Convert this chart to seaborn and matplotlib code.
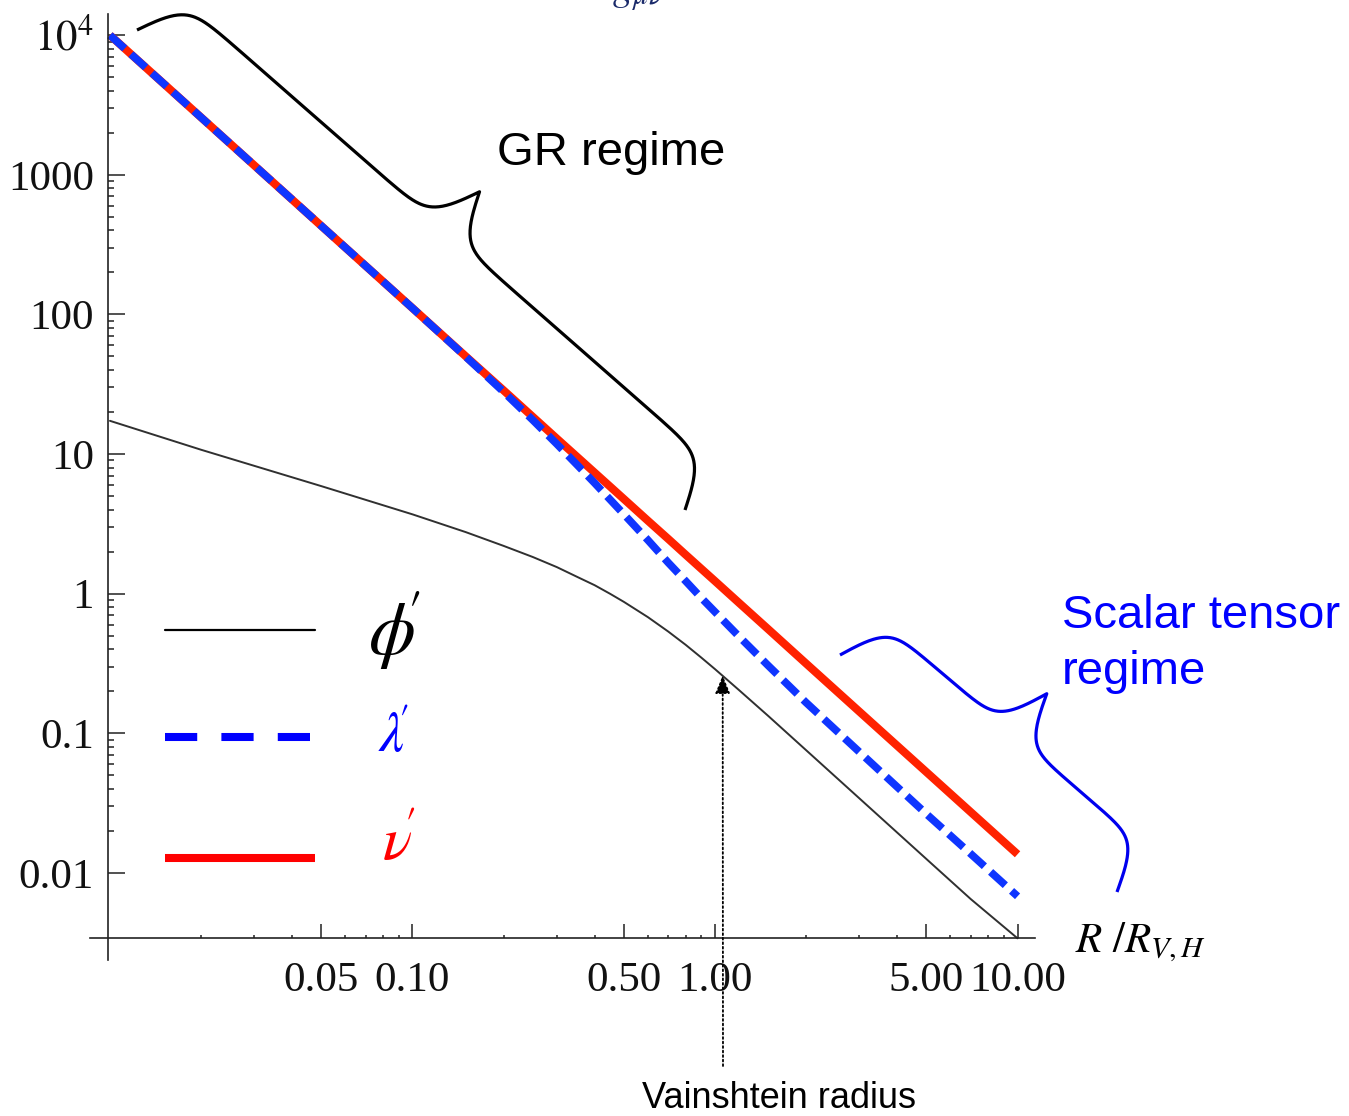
import numpy as np
import pandas as pd
import matplotlib
matplotlib.use("Agg")
import matplotlib.pyplot as plt
import seaborn as sns
from matplotlib.lines import Line2D
from matplotlib.ticker import FixedLocator, FixedFormatter

###################################################################################
# data (log-log, r in units of the Vainshtein radius)
###################################################################################
r = [0.01, 0.02, 0.05, 0.1, 0.15, 0.2, 0.25, 0.3, 0.35, 0.4, 0.45, 0.5, 0.6, 0.7, 0.8, 0.9,
     1.0, 1.2, 1.5, 2, 3, 5, 7, 10]
phi_p = [17.3, 10.74, 5.89, 3.70, 2.76, 2.20, 1.83, 1.55, 1.32, 1.15, 0.998, 0.873, 0.679,
         0.536, 0.430, 0.349, 0.288, 0.204, 0.133, 0.0757, 0.0342, 0.01256, 0.0065, 0.0034]
lam_p = [10000, 2580, 430, 111, 49.8, 27.9, 17.5, 11.8, 8.37, 6.2, 4.72, 3.70, 2.42, 1.67,
         1.23, 0.935, 0.74, 0.494, 0.305, 0.166, 0.0735, 0.0264, 0.0137, 0.0068]
nu_p = [10000, 2580, 430, 111, 50.1, 28.6, 18.45, 12.9, 9.55, 7.36, 5.85, 4.76, 3.33, 2.47,
        1.90, 1.51, 1.23, 0.86, 0.556, 0.316, 0.143, 0.0527, 0.0273, 0.0136]

x_ticks = [0.05, 0.1, 0.5, 1, 5, 10]
x_tick_labels = ["0.05", "0.10", "0.50", "1.00", "5.00", "10.00"]
x_minor = [0.02, 0.03, 0.04, 0.06, 0.07, 0.08, 0.09, 0.2, 0.3, 0.4, 0.6, 0.7, 0.8, 0.9,
           2, 3, 4, 6, 7, 8, 9]
y_ticks = [0.01, 0.1, 1, 10, 100, 1000, 10000]
y_tick_labels = ["0.01", "0.1", "1", "10", "100", "1000", r"$10^4$"]
y_minor = [m * 10.0 ** e for e in range(-2, 4) for m in range(2, 10)]

df = pd.DataFrame({"r": r * 3,
                   "value": phi_p + lam_p + nu_p,
                   "field": ["phi"] * len(r) + ["lambda"] * len(r) + ["nu"] * len(r)})

###################################################################################
# styling
###################################################################################
sns.set_style("white")
plt.rcParams["font.family"] = ["Liberation Serif", "DejaVu Serif"]
plt.rcParams["mathtext.fontset"] = "stix"
plt.rcParams["text.color"] = "black"

W, H = 1349, 1116
fig = plt.figure(figsize=(W / 100, H / 100), dpi=100)
ax = fig.add_axes([90 / W, 1 - 960 / H, 945 / W, 946 / H])


def fx(x, y):
    # image pixel (y down) -> figure fraction
    return x / W, 1 - y / H


# curves
sns.lineplot(data=df[df.field == "nu"], x="r", y="value", ax=ax, color="#ff2200",
             lw=5.8, estimator=None, sort=False, solid_capstyle="butt")
sns.lineplot(data=df[df.field == "lambda"], x="r", y="value", ax=ax, color="#0f35ff",
             lw=5.5, estimator=None, sort=False)
ax.lines[-1].set_dashes([2.6, 1.1])
ax.lines[-1].set_dash_capstyle("butt")
sns.lineplot(data=df[df.field == "phi"], x="r", y="value", ax=ax, color="#303030",
             lw=1.4, estimator=None, sort=False)

ax.set_xscale("log")
ax.set_yscale("log")
ax.set_xlim(0.00859, 11.42)
ax.set_ylim(0.002378, 14190)

# Mathematica-like crossing axes
for s in ["top", "right"]:
    ax.spines[s].set_visible(False)
ax.spines["left"].set_position(("data", 0.00985))
ax.spines["bottom"].set_position(("data", 0.00341))
for s in ["left", "bottom"]:
    ax.spines[s].set_linewidth(1.2)
    ax.spines[s].set_color("#222222")

ax.xaxis.set_major_locator(FixedLocator(x_ticks))
ax.xaxis.set_major_formatter(FixedFormatter(x_tick_labels))
ax.xaxis.set_minor_locator(FixedLocator(x_minor))
ax.xaxis.set_minor_formatter(FixedFormatter([""] * len(x_minor)))
ax.yaxis.set_major_locator(FixedLocator(y_ticks))
ax.yaxis.set_major_formatter(FixedFormatter(y_tick_labels))
ax.yaxis.set_minor_locator(FixedLocator(y_minor))
ax.yaxis.set_minor_formatter(FixedFormatter([""] * len(y_minor)))

ax.tick_params(axis="both", which="both", direction="in", color="#222222",
               bottom=True, left=True, labelsize=31, labelcolor="#111111", width=1.1)
ax.tick_params(axis="x", which="major", length=10, pad=17)
ax.tick_params(axis="x", which="minor", length=2.5)
ax.tick_params(axis="y", which="major", length=12, pad=10)
ax.tick_params(axis="y", which="minor", length=4.5)
ax.set_xlabel("")
ax.set_ylabel("")
ax.grid(False)

fig.text(*fx(1075, 952), r"$R\ /R_{V,H}$", fontsize=31, va="baseline", ha="left")
# title cut off at the top of the picture
fig.text(*fx(612, -1), r"$g_{\mu\nu}$", fontsize=30, color="#1a2a6a", va="baseline")

###################################################################################
# legend drawn by hand
###################################################################################
fig.add_artist(Line2D([165 / W, 315 / W], [1 - 630 / H] * 2, transform=fig.transFigure,
                      color="black", lw=1.6))
fig.add_artist(Line2D([165 / W, 315 / W], [1 - 737 / H] * 2, transform=fig.transFigure,
                      color="#0000ff", lw=5.8, dashes=[4.0, 3.0], dash_capstyle="butt"))
fig.add_artist(Line2D([165 / W, 315 / W], [1 - 858 / H] * 2, transform=fig.transFigure,
                      color="#ff0000", lw=5.8, solid_capstyle="butt"))
fig.text(*fx(368, 655), r"$\phi\!'$", fontsize=54, color="black", va="baseline")
fig.text(*fx(378, 752), r"$\lambda\!'$", fontsize=40, color="#0000ff", va="baseline")
fig.text(*fx(382, 860), r"$\nu\!'$", fontsize=44, color="#ff0000", va="baseline")


###################################################################################
# braces and annotations
###################################################################################
def brace(p0, p1, h, beta, **kw):
    p0 = np.asarray(p0, float)
    p1 = np.asarray(p1, float)
    L = np.hypot(*(p1 - p0))
    u = (p1 - p0) / L
    n = np.array([u[1], -u[0]])
    s = np.linspace(0, L / 2, 300)
    v = 1 / (1 + np.exp(-beta * s)) + 1 / (1 + np.exp(-beta * (s - L / 2)))
    s = np.concatenate([s, L - s[::-1]])
    v = np.concatenate([v, v[::-1]]) - 0.5
    pts = p0 + np.outer(s, u) + np.outer(v * h, n)
    fig.add_artist(Line2D(pts[:, 0] / W, 1 - pts[:, 1] / H, transform=fig.transFigure,
                          solid_capstyle="butt", **kw))


brace((137, 30), (685, 510), 104, 0.09, color="black", lw=2.3)
brace((840, 655), (1117, 892), 105, 0.1, color="#0000ee", lw=2.3)

fig.text(*fx(497, 165), "GR regime", fontsize=34, family="Liberation Sans", color="black",
         va="baseline")
fig.text(*fx(1062, 628), "Scalar tensor", fontsize=34, family="Liberation Sans",
         color="#0000ff", va="baseline")
fig.text(*fx(1062, 684), "regime", fontsize=34, family="Liberation Sans",
         color="#0000ff", va="baseline")

ax.annotate("", xy=(1.06, 0.26), xycoords="data", xytext=fx(723, 1066),
            textcoords="figure fraction",
            arrowprops=dict(arrowstyle="-|>,head_length=1.1,head_width=0.45", color="black",
                            lw=1.3, linestyle=(0, (1, 1.5)), shrinkA=0, shrinkB=0))
fig.text(*fx(779, 1108), "Vainshtein radius", fontsize=26, family="Liberation Sans",
         color="black", ha="center", va="baseline")

plt.savefig("out.png", dpi=100)
